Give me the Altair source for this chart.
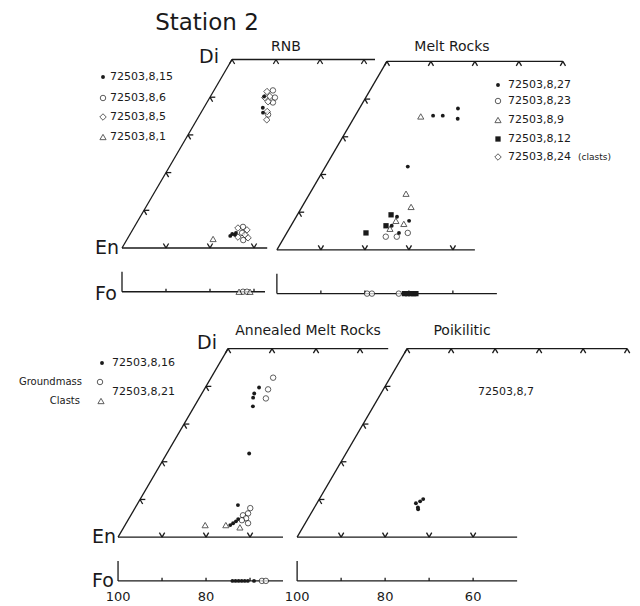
import altair as alt
import pandas as pd

# ---------------- pyroxene (Wo, Fs mol %) and olivine (Fo) analyses ----------------
# RNB: 72503,8,15 (dot)  8,6 (circle)  8,5 (diamond)  8,1 (triangle)
rnb_marker = ["diamond", "circle", "diamond", "circle", "diamond", "diamond", "circle", "diamond", "circle", "diamond",
              "dot", "dot", "dot",
              "diamond", "circle", "diamond", "circle", "diamond", "diamond", "circle", "diamond",
              "dot", "dot", "dot", "dot",
              "triangle"]
rnb_wo = [41.5, 41.8, 40.2, 39.9, 39.9, 38.8, 38.6, 36.2, 35.4, 34.0,
          40.2, 37.2, 35.9,
          5.3, 5.6, 4.8, 4.0, 3.5, 2.9, 2.1, 2.7,
          3.7, 3.5, 4.0, 3.2,
          2.4]
rnb_fs = [12.2, 13.4, 13.5, 14.8, 12.5, 13.8, 15.0, 14.9, 15.5, 15.9,
          12.2, 13.4, 14.1,
          23.7, 24.7, 26.0, 25.3, 26.2, 24.9, 26.5, 27.3,
          23.2, 23.9, 23.9, 23.0,
          19.5]
rnb_fo_marker = ["triangle", "circle", "circle", "triangle"]
rnb_fo = [73.4, 72.5, 71.6, 70.9]

# Melt rocks: 72503,8,27 (dot)  8,23 (circle)  8,9 (triangle)  8,12 (square)  8,24 clasts (diamond)
melt_marker = ["triangle", "dot", "dot", "dot", "dot", "dot",
               "triangle", "triangle",
               "square", "square", "dot", "triangle", "dot", "square", "triangle", "triangle",
               "circle", "circle", "dot", "circle", "dot"]
melt_wo = [35.4, 35.6, 35.6, 37.5, 34.8, 22.1,
           14.9, 11.4,
           4.5, 9.3, 8.8, 7.7, 7.7, 6.4, 5.6, 6.9,
           3.5, 3.5, 4.5, 4.5, 6.4]
melt_fs = [15.0, 17.7, 19.9, 22.4, 23.7, 18.7,
           21.9, 24.8,
           18.0, 21.3, 22.9, 23.2, 26.2, 21.6, 22.9, 25.4,
           23.0, 25.5, 25.5, 27.5, 22.9]
melt_fo_marker = ["circle", "circle", "circle", "square", "square", "square", "square", "square"]
melt_fo = [79.5, 78.4, 72.3, 71.0, 70.3, 69.6, 68.9, 68.4]

# Annealed melt rocks: 72503,8,16 (dot)  8,21 groundmass (circle)  8,21 clasts (triangle)
amr_marker = ["circle", "dot", "circle", "dot", "dot", "circle", "dot", "dot", "dot",
              "circle", "circle", "circle", "circle", "circle", "circle",
              "dot", "dot", "dot", "dot",
              "triangle", "triangle", "triangle"]
amr_wo = [42.3, 39.7, 39.2, 38.1, 37.0, 36.8, 34.7, 22.2, 8.5,
          7.7, 6.3, 5.8, 5.0, 4.5, 3.7,
          3.2, 3.7, 4.2, 4.8,
          3.2, 3.2, 2.6]
amr_fs = [14.1, 12.2, 14.5, 11.9, 12.2, 15.2, 13.3, 18.7, 23.0,
          26.2, 26.4, 25.5, 26.6, 25.9, 27.7,
          23.9, 24.3, 24.7, 24.9,
          18.2, 22.9, 26.4]
amr_fo_marker = ["dot", "dot", "dot", "dot", "dot", "dot", "dot", "circle", "circle"]
amr_fo = [74.0, 73.3, 72.6, 71.9, 71.2, 70.5, 69.1, 67.3, 66.4]

# Poikilitic: 72503,8,7
poik_marker = ["dot", "dot", "dot", "dot", "dot"]
poik_wo = [9.0, 9.5, 10.1, 7.9, 7.4]
poik_fs = [22.5, 23.2, 23.6, 23.5, 23.8]

fo_tick_values = [90, 80, 70, 60, 50]
fo_axis_labels = [100, 80, 60]

# ---------------- layout of the four quadrilaterals ----------------
KX, KY = 4.4, 3.77      # pixels per Fs unit / per Wo unit
X0, Y0 = 122, 248       # En corner of the first panel
W, H = 640, 606
FO_V = -11.6            # olivine scale, below each En corner (Wo units)

PANELS = {
    "RNB":                 dict(u0=0.0,  v0=0.0,   bottom=33.0, top=32.5, fo_min=67.5),
    "Melt Rocks":          dict(u0=35.2, v0=-0.5,  bottom=45.0, top=40.0, fo_min=50.0),
    "Annealed Melt Rocks": dict(u0=-0.9, v0=-76.7, bottom=37.5, top=36.4, fo_min=62.5),
    "Poikilitic":          dict(u0=39.8, v0=-76.7, bottom=50.0, top=50.0, fo_min=50.0),
}
DATA = {
    "RNB": (rnb_marker, rnb_wo, rnb_fs, rnb_fo_marker, rnb_fo),
    "Melt Rocks": (melt_marker, melt_wo, melt_fs, melt_fo_marker, melt_fo),
    "Annealed Melt Rocks": (amr_marker, amr_wo, amr_fs, amr_fo_marker, amr_fo),
    "Poikilitic": (poik_marker, poik_wo, poik_fs, [], []),
}


def quad(p, wo, fs):
    """Quadrilateral position (Wo, Fs) -> plot units."""
    return fs + wo / 2 + p["u0"], wo + p["v0"]


def px(xp, yp):
    """Page pixel -> plot units (for annotations)."""
    return (xp - X0) / KX, (Y0 - yp) / KY


segs, pts = [], []
ARM = 1.2
for name, p in PANELS.items():
    def seg(a, b):
        segs.append(dict(u=a[0], v=a[1], u2=b[0], v2=b[1]))
    # outline
    seg(quad(p, 0, 0), quad(p, 0, p["bottom"]))
    seg(quad(p, 0, 0), quad(p, 50, 0))
    seg(quad(p, 50, 0), quad(p, 50, p["top"]))
    # chevron ticks
    for f in range(10, int(p["bottom"]) + 1, 10):
        if f < p["bottom"] - 1:
            seg(quad(p, 0, f), quad(p, ARM, f))
            seg(quad(p, 0, f), quad(p, ARM, f - ARM))
    for f in range(0, int(p["top"]) + 1, 10):
        seg(quad(p, 50, f), quad(p, 50 - ARM, f))
        seg(quad(p, 50, f), quad(p, 50 - ARM, f + ARM))
    for t in (10, 20, 30, 40):
        seg(quad(p, t, 0), quad(p, t, ARM))
        seg(quad(p, t, 0), quad(p, t - ARM, ARM))
    # olivine Fo scale
    fv = p["v0"] + FO_V
    seg((p["u0"], fv), (p["u0"] + 100 - p["fo_min"], fv))
    seg((p["u0"], fv), (p["u0"], fv + 5.3))
    for fo in fo_tick_values:
        if fo > p["fo_min"]:
            seg((p["u0"] + 100 - fo, fv), (p["u0"] + 100 - fo, fv + 0.8))
    # analyses
    mk, wo, fs, fmk, fo = DATA[name]
    for m, w, f in zip(mk, wo, fs):
        u, v = quad(p, w, f)
        pts.append(dict(u=u, v=v, marker=m))
    for m, f in zip(fmk, fo):
        pts.append(dict(u=p["u0"] + 100 - f, v=fv, marker=m))

# legend keys
for (xp, yp, m) in [(103, 77, "dot"), (103, 98, "circle"), (103, 117, "diamond"), (103, 137, "triangle"),
                    (498, 85, "dot"), (498, 101, "circle"), (498, 120, "triangle"),
                    (498, 139, "square"), (498, 157, "diamond"),
                    (102, 363, "dot"), (100, 382, "circle"), (101, 401, "triangle")]:
    u, v = px(xp, yp)
    pts.append(dict(u=u, v=v, marker=m))

seg_df = pd.DataFrame(segs)
pt_df = pd.DataFrame(pts)

xs = alt.Scale(domain=[-X0 / KX, (W - X0) / KX], nice=False, zero=False)
ys = alt.Scale(domain=[(Y0 - H) / KY, Y0 / KY], nice=False, zero=False)
X = lambda f: alt.X(f, scale=xs, axis=None)
Y = lambda f: alt.Y(f, scale=ys, axis=None)
INK = "#1a1a1a"

lines = alt.Chart(seg_df).mark_rule(color=INK, strokeWidth=1.3).encode(
    x=X("u:Q"), y=Y("v:Q"), x2="u2:Q", y2="v2:Q")

STYLE = {
    "circle":   dict(shape="circle", size=30, filled=True, fill="white", stroke=INK, strokeWidth=1),
    "diamond":  dict(shape="diamond", size=42, filled=True, fill="white", stroke=INK, strokeWidth=1),
    "triangle": dict(shape="triangle-up", size=38, filled=True, fill="white", stroke=INK, strokeWidth=1),
    "square":   dict(shape="square", size=28, filled=True, color=INK, opacity=1),
    "dot":      dict(shape="circle", size=15, filled=True, color=INK, opacity=1),
}
marks = []
for m, st in STYLE.items():
    sub = pt_df[pt_df["marker"] == m]
    marks.append(alt.Chart(sub).mark_point(**st).encode(x=X("u:Q"), y=Y("v:Q")))

FONT = "DejaVu Sans"


def texts(rows, size, align="center"):
    df = pd.DataFrame([dict(zip(("u", "v"), px(xp, yp)), text=t) for xp, yp, t in rows])
    return alt.Chart(df).mark_text(font=FONT, fontSize=size, align=align, baseline="middle",
                                   color=INK).encode(x=X("u:Q"), y=Y("v:Q"), text="text:N")


big = texts([(207, 23, "Station 2")], 23)
corners = texts([(209, 57, "Di"), (207, 343, "Di")], 19)
corners_r = texts([(119, 248, "En"), (117, 294, "Fo"), (116, 537, "En"), (114, 581, "Fo")], 19, "right")
titles = texts([(286, 47, "RNB"), (452, 47, "Melt Rocks"), (308, 331, "Annealed Melt Rocks"),
                (462, 331, "Poikilitic")], 14)
legend = texts([(110, 77, "72503,8,15"), (110, 98, "72503,8,6"), (110, 117, "72503,8,5"),
                (110, 137, "72503,8,1"),
                (508, 85, "72503,8,27"), (508, 101, "72503,8,23"), (508, 120, "72503,8,9"),
                (508, 139, "72503,8,12"), (508, 157, "72503,8,24"),
                (112, 363, "72503,8,16"), (112, 392, "72503,8,21"),
                (478, 392, "72503,8,7")], 11, "left")
clasts = texts([(578, 157, "(clasts)")], 9, "left")
gm = texts([(82, 382, "Groundmass"), (80, 401, "Clasts")], 10, "right")

axis_rows = []
for name in ("Annealed Melt Rocks", "Poikilitic"):
    p = PANELS[name]
    for lab in fo_axis_labels:
        if lab >= p["fo_min"]:
            u = p["u0"] + 100 - lab
            axis_rows.append((X0 + u * KX, 597, str(lab)))
axis_text = texts(axis_rows, 13)

chart = alt.layer(lines, *marks, big, corners, corners_r, titles, legend, clasts, gm, axis_text).properties(
    width=W, height=H, padding=0, autosize=alt.AutoSizeParams(type="none"), background="white"
).configure_view(strokeWidth=0)

chart.save("out.html", embed_options={"renderer": "svg", "actions": False})
